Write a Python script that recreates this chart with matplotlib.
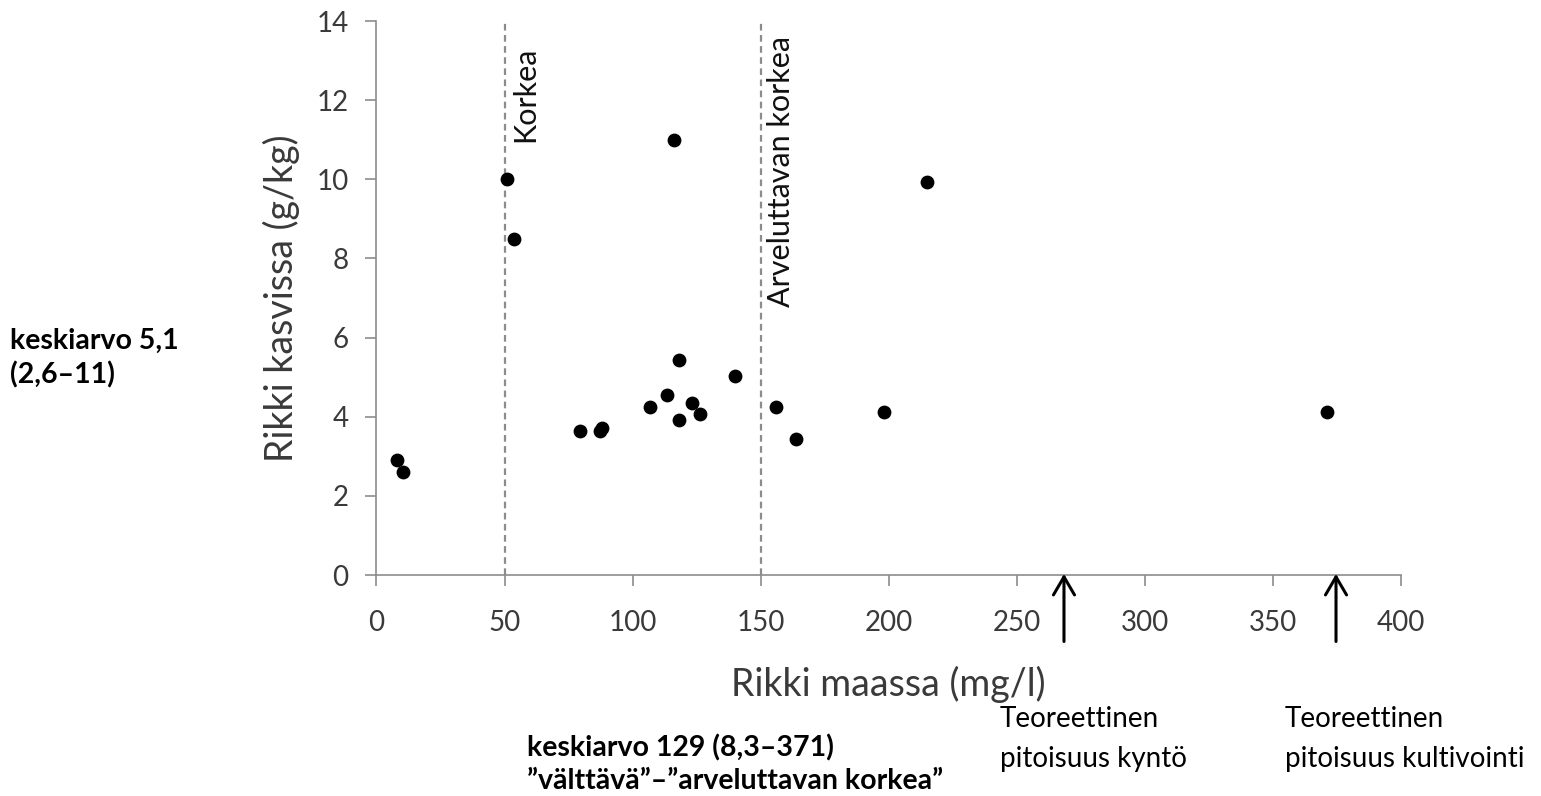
"""
Sulfur in soil vs sulfur in plants, with soil-class thresholds
and theoretical concentration markers.
"""
import matplotlib.pyplot as plt

plt.rcParams["font.family"] = ["Lato", "DejaVu Sans"]

# soil S (mg/l) and plant S (g/kg)
soil_s = [8.1, 10.5, 51.1, 53.6, 79.3, 87.4, 88.1, 106.6, 113.5, 116.1,
          118.0, 118.0, 123.0, 126.2, 139.8, 156.1, 163.6, 198.0, 214.8, 370.9]
plant_s = [2.9, 2.6, 10.0, 8.5, 3.64, 3.64, 3.72, 4.25, 4.54, 11.0,
           5.43, 3.92, 4.34, 4.06, 5.02, 4.25, 3.45, 4.13, 9.92, 4.13]

thresholds = [50, 150]
threshold_labels = ["Korkea", "Arveluttavan korkea"]

theory_x = [268.4, 374.6]
theory_labels = ["Teoreettinen\npitoisuus kyntö", "Teoreettinen\npitoisuus kultivointi"]

x_ticks = [0, 50, 100, 150, 200, 250, 300, 350, 400]
y_ticks = [0, 2, 4, 6, 8, 10, 12, 14]

GREY = "#8c8c8c"
TXT = "#3a3a3a"

fig = plt.figure(figsize=(15.41, 7.96), dpi=100)
ax = fig.add_axes([0.2443, 0.2776, 0.9092 - 0.2443, 0.9736 - 0.2776])

ax.scatter(soil_s, plant_s, s=80, c="black", zorder=3)

# threshold lines with rotated labels just right of them
label_pos = [(52.5, 13.35), (152.3, 13.62)]
for x, lab, (tx, ty) in zip(thresholds, threshold_labels, label_pos):
    ax.axvline(x, color=GREY, linestyle=(0, (3, 2)), linewidth=1.6, zorder=1)
    ax.text(tx, ty, lab, rotation=90, ha="left", va="top",
            fontsize=22, color="#111111")

ax.set_xlim(0, 400)
ax.set_ylim(0, 14)
ax.set_xticks(x_ticks)
ax.set_yticks(y_ticks)
ax.tick_params(axis="both", direction="out", length=8, width=1.2,
               color=GREY, labelsize=20, labelcolor=TXT)
ax.tick_params(axis="x", pad=17)
ax.tick_params(axis="y", pad=12)

for side in ("top", "right"):
    ax.spines[side].set_visible(False)
for side in ("left", "bottom"):
    ax.spines[side].set_color(GREY)
    ax.spines[side].set_linewidth(1.2)

ax.set_xlabel("Rikki maassa (mg/l)", fontsize=27, color=TXT, labelpad=22)
ax.set_ylabel("Rikki kasvissa (g/kg)", fontsize=27, color=TXT, labelpad=12)

# arrows for theoretical concentrations
for x in theory_x:
    ax.annotate("", xy=(x, 0.1), xytext=(x, -1.75),
                arrowprops=dict(arrowstyle="->,head_length=0.65,head_width=0.38",
                                mutation_scale=20, color="black", lw=2.2),
                annotation_clip=False)

fig.text(1000 / 1541, 1 - 706 / 796, theory_labels[0], fontsize=20,
         ha="left", va="top", linespacing=1.65)
fig.text(1285 / 1541, 1 - 706 / 796, theory_labels[1], fontsize=20,
         ha="left", va="top", linespacing=1.65)

fig.text(10 / 1541, 1 - 328 / 796, "keskiarvo 5,1\n(2,6–11)", fontsize=20.5,
         fontweight="bold", ha="left", va="top", linespacing=1.35)
fig.text(527 / 1541, 1 - 734 / 796,
         "keskiarvo 129 (8,3–371)\n”välttävä”–”arveluttavan korkea”",
         fontsize=20.5, fontweight="bold", ha="left", va="top", linespacing=1.35)

fig.savefig("out.png", dpi=100)
